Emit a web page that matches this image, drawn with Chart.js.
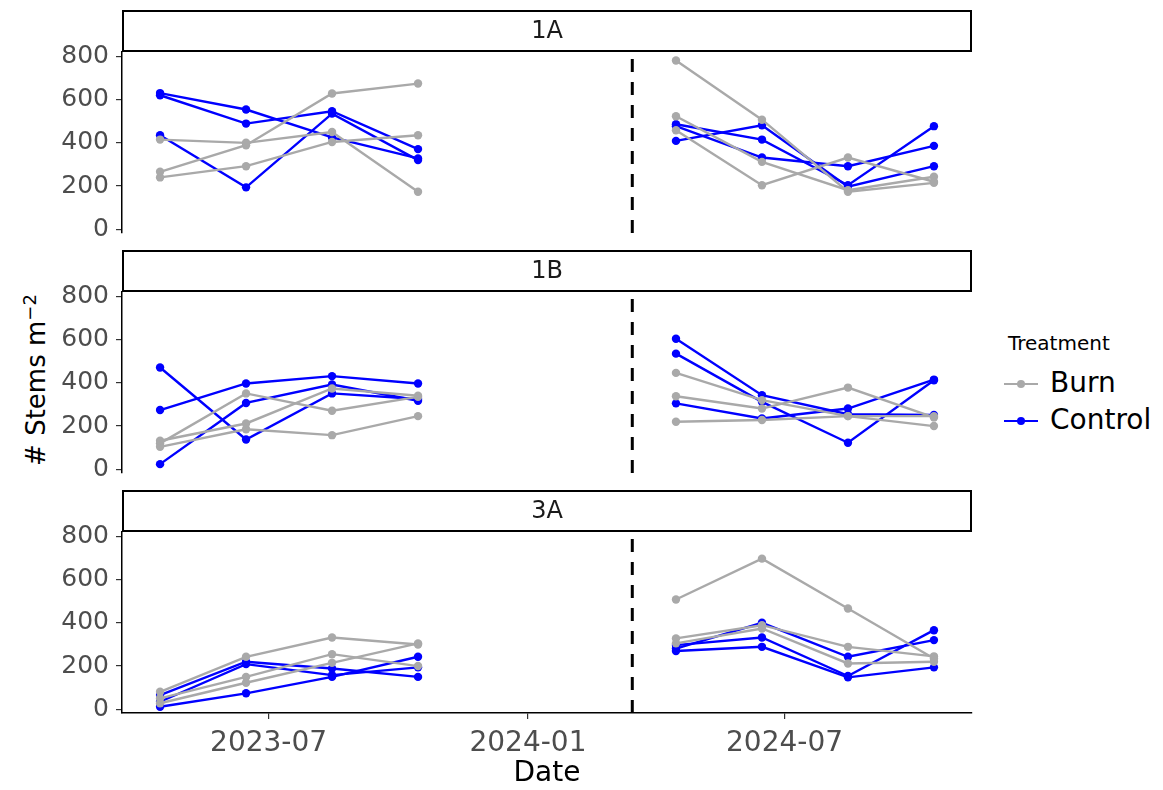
<!DOCTYPE html>
<html>
<head>
<meta charset="utf-8">
<title>Stems by treatment</title>
<script src="https://cdn.jsdelivr.net/npm/chart.js@4.4.1/dist/chart.umd.min.js"></script>
<style>
  body { margin: 0; background: #fff; }
  #wrap { position: relative; width: 1163px; height: 790px; font-family: "DejaVu Sans", sans-serif; overflow: hidden; }
  #wrap canvas { position: absolute; left: 0; }
  .ytitle { position: absolute; left: 35px; top: 380px; transform: translate(-50%, -50%) rotate(-90deg); font-size: 26px; white-space: nowrap; color: #000; }
  .ytitle sup { font-size: 18px; }
  .ltitle { position: absolute; left: 1008px; top: 331px; font-size: 20px; color: #000; }
  .litem { position: absolute; left: 1050px; font-size: 28px; color: #000; line-height: 32px; }
  .key { position: absolute; left: 1004px; width: 34px; height: 2px; }
  .key::after { content: ""; position: absolute; left: 13px; top: -3px; width: 8px; height: 8px; border-radius: 50%; background: inherit; }
</style>
</head>
<body>
<div id="wrap">
  <div class="ytitle"># Stems m<sup>−2</sup></div>
  <div class="ltitle">Treatment</div>
  <span class="key" style="top:383px; background:#A9A9A9"></span>
  <div class="litem" style="top:367px">Burn</div>
  <span class="key" style="top:420px; background:#0000FF"></span>
  <div class="litem" style="top:404px">Control</div>
</div>
<script>
// sampling dates (two seasons, split by the burn)
const DATES = ['2023-04-15', '2023-06-15', '2023-08-15', '2023-10-15',
               '2024-04-15', '2024-06-15', '2024-08-15', '2024-10-15'];
const BURN_DATE = '2024-03-15';
const X_MIN = '2023-03-19';
const X_MAX = '2024-11-11';
const X_TICKS = ['2023-07-01', '2024-01-01', '2024-07-01'];
const Y_TICKS = [0, 200, 400, 600, 800];
const Y_MIN = -17;
const Y_MAX = 820;
const SITES = ['1A', '1B', '3A'];

// one row per replicate plot, 8 sampling dates each
const BURN_1A = [
    [415, 400, 450, 174, 781, 507, 174, 215],
    [266, 389, 628, 674, 523, 312, 181, 243],
    [240, 292, 404, 435, 458, 204, 332, 220],
];
const CONTROL_1A = [
    [630, 554, 425, 328, 486, 415, 204, 477],
    [620, 489, 546, 371, 409, 481, 197, 292],
    [435, 194, 535, 320, 477, 332, 292, 386],
];
const BURN_1B = [
    [132, 212, 374, 340, 446, 320, 246, 246],
    [104, 185, 158, 246, 338, 281, 378, 240],
    [120, 351, 271, 335, 220, 228, 246, 200],
];
const CONTROL_1B = [
    [471, 138, 351, 325, 604, 343, 255, 251],
    [274, 397, 431, 397, 535, 312, 123, 412],
    [24, 307, 392, 317, 305, 235, 281, 415],
];
const BURN_3A = [
    [81, 243, 332, 300, 508, 697, 466, 235],
    [51, 150, 255, 200, 328, 389, 289, 245],
    [28, 123, 215, 305, 305, 374, 212, 220],
];
const CONTROL_3A = [
    [66, 220, 189, 150, 281, 400, 243, 320],
    [35, 209, 158, 194, 297, 332, 154, 366],
    [12, 74, 150, 243, 270, 289, 148, 194],
];

const BURN_COLOR = '#A9A9A9';
const CONTROL_COLOR = '#0000FF';
const FONT = 'DejaVu Sans';

Chart.defaults.font.family = FONT;

function ms(d) { return Date.parse(d); }

function fmtMonth(v) {
    const d = new Date(v);
    return d.getUTCFullYear() + '-' + String(d.getUTCMonth() + 1).padStart(2, '0');
}

// break the line between the two seasons
function seriesPoints(values) {
    const pts = values.map(function (v, i) { return { x: ms(DATES[i]), y: v }; });
    pts.splice(4, 0, { x: ms(BURN_DATE), y: null });
    return pts;
}

function lineSet(values, color) {
    return {
        data: seriesPoints(values),
        borderColor: color,
        backgroundColor: color,
        borderWidth: 2.4,
        pointRadius: 4.2,
        pointBorderWidth: 0,
        tension: 0,
        spanGaps: false,
    };
}

const stripPlugin = {
    id: 'strip',
    afterDraw(chart, args, opts) {
        const { ctx, chartArea: a } = chart;
        const w = a.right - a.left;
        ctx.save();
        ctx.fillStyle = '#fff';
        ctx.fillRect(a.left, a.top - 42, w, 42);
        ctx.strokeStyle = '#000';
        ctx.lineWidth = 2;
        ctx.strokeRect(a.left + 1, a.top - 41, w - 2, 40);
        ctx.fillStyle = '#1A1A1A';
        ctx.font = '24px "' + FONT + '"';
        ctx.textAlign = 'center';
        ctx.textBaseline = 'middle';
        ctx.fillText(opts.text, a.left + w / 2, a.top - 20);
        ctx.restore();
    },
};

const PANELS = [
    { site: SITES[0], burn: BURN_1A, control: CONTROL_1A, top: 0, height: 248 },
    { site: SITES[1], burn: BURN_1B, control: CONTROL_1B, top: 240, height: 248 },
    { site: SITES[2], burn: BURN_3A, control: CONTROL_3A, top: 480, height: 310 },
];

const wrap = document.getElementById('wrap');

PANELS.forEach(function (p, idx) {
    const last = idx === PANELS.length - 1;
    const canvas = document.createElement('canvas');
    canvas.width = 1163;
    canvas.height = p.height;
    canvas.style.top = p.top + 'px';
    wrap.appendChild(canvas);

    const datasets = [{
        data: [{ x: ms(BURN_DATE), y: Y_MIN }, { x: ms(BURN_DATE), y: Y_MAX }],
        borderColor: '#000',
        borderWidth: 3,
        borderDash: [13, 10],
        pointRadius: 0,
    }];
    p.burn.forEach(function (v) { datasets.push(lineSet(v, BURN_COLOR)); });
    p.control.forEach(function (v) { datasets.push(lineSet(v, CONTROL_COLOR)); });

    new Chart(canvas, {
        type: 'line',
        data: { datasets: datasets },
        plugins: [stripPlugin],
        options: {
            responsive: false,
            animation: false,
            layout: { padding: { top: 52, bottom: last ? 0 : 15, left: 0, right: 191 } },
            plugins: {
                legend: { display: false },
                tooltip: { enabled: false },
                strip: { text: p.site },
            },
            scales: {
                x: {
                    type: 'linear',
                    min: ms(X_MIN),
                    max: ms(X_MAX),
                    display: last,
                    afterBuildTicks: function (a) { a.ticks = X_TICKS.map(function (d) { return { value: ms(d) }; }); },
                    afterFit: function (a) { a.height = last ? 77 : 0; },
                    ticks: { callback: fmtMonth, font: { size: 28 }, color: '#4D4D4D', padding: 8, maxRotation: 0, autoSkip: false },
                    grid: { drawOnChartArea: false, tickLength: 6, color: '#333', lineWidth: 1.2 },
                    border: { color: '#000', width: 1.5 },
                    title: { display: true, text: 'Date', font: { size: 28, lineHeight: 1 }, color: '#000', padding: { top: 0, bottom: 2 } },
                },
                y: {
                    min: Y_MIN,
                    max: Y_MAX,
                    afterBuildTicks: function (a) { a.ticks = Y_TICKS.map(function (v) { return { value: v }; }); },
                    afterFit: function (a) {
                        a.width = 122;
                        a.paddingTop = 0;
                        a.paddingBottom = 0;
                    },
                    ticks: { font: { size: 25 }, color: '#4D4D4D', padding: 7 },
                    grid: { drawOnChartArea: false, tickLength: 6, color: '#333', lineWidth: 1.2 },
                    border: { color: '#000', width: 1.5 },
                },
            },
        },
    });
});
</script>
</body>
</html>
